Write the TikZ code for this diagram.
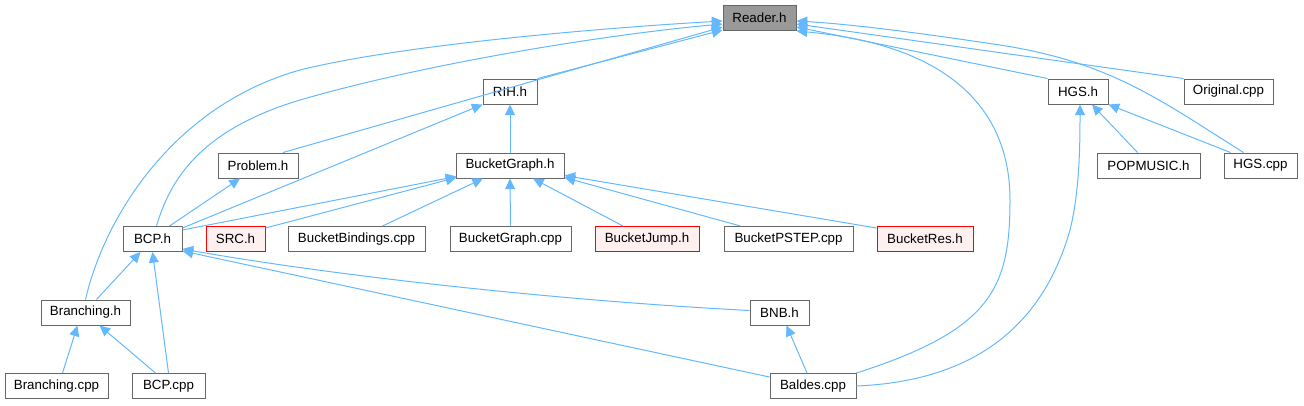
\documentclass[tikz,border=0pt]{standalone}
\usepackage{fontspec}
\setmainfont{Liberation Sans}
\usepackage{tikz}
\usetikzlibrary{arrows.meta,calc,positioning}

\definecolor{edgeblue}{HTML}{63B8FF}
\definecolor{boxgray}{HTML}{666666}
\definecolor{rootgray}{HTML}{999999}
\definecolor{nodocred}{HTML}{FF0000}
\definecolor{nodocfill}{HTML}{FFF0F0}

\begin{document}
\begin{tikzpicture}[
  x=0.75pt,y=-0.75pt,
  >={Triangle[length=8pt,width=7.5pt]},
  file/.style={draw=boxgray,fill=white,line width=0.75pt,inner sep=0pt,
    minimum height=18.75pt,font=\fontsize{10}{12}\selectfont},
  root/.style={file,fill=rootgray},
  nodoc/.style={file,draw=nodocred,fill=nodocfill},
  dep/.style={draw=edgeblue,line width=0.75pt,->}
]
  \useasboundingbox (0,0) rectangle (1304,405);

  % Top row
  \node[root,minimum width=54.75pt] (Reader) at (759.5,18) {Reader.h};

  % Second row
  \node[file,minimum width=40.5pt] (RIH) at (510,91.5) {RIH.h};
  \node[file,minimum width=45pt] (HGS) at (1078,91.5) {HGS.h};
  \node[file,minimum width=66.75pt] (Original) at (1228.5,91.5) {Original.cpp};

  % Third row
  \node[file,minimum width=60pt] (Problem) at (258,165.5) {Problem.h};
  \node[file,minimum width=81pt] (BucketGraph) at (510,165.5) {BucketGraph.h};
  \node[file,minimum width=77.25pt] (POPMUSIC) at (1148.5,165.5) {POPMUSIC.h};
  \node[file,minimum width=54.75pt] (HGSCpp) at (1260.5,165.5) {HGS.cpp};

  % Fourth row
  \node[file,minimum width=44.25pt] (BCPh) at (152.5,239) {BCP.h};
  \node[nodoc,minimum width=44.25pt] (SRC) at (235.5,239) {SRC.h};
  \node[file,minimum width=102.75pt] (Bindings) at (356.5,239) {BucketBindings.cpp};
  \node[file,minimum width=90.75pt] (GraphCpp) at (510.5,239) {BucketGraph.cpp};
  \node[nodoc,minimum width=78pt] (Jump) at (647,239) {BucketJump.h};
  \node[file,minimum width=96.75pt] (PSTEP) at (788.5,239) {BucketPSTEP.cpp};
  \node[nodoc,minimum width=72pt] (Res) at (925,239) {BucketRes.h};

  % Fifth row
  \node[file,minimum width=66.75pt] (Branching) at (85.5,312.5) {Branching.h};
  \node[file,minimum width=44.25pt] (BNB) at (779.5,312.5) {BNB.h};

  % Bottom row
  \node[file,minimum width=77.25pt] (BranchingCpp) at (56.5,386) {Branching.cpp};
  \node[file,minimum width=54.75pt] (BCPCpp) at (168.5,386) {BCP.cpp};
  \node[file,minimum width=64.5pt] (Baldes) at (813,386) {Baldes.cpp};

  % Includes of Reader.h, left side
  \draw[dep] (Branching.north)
    .. controls (105,215) and (175,105) .. (300,70)
    .. controls (400,45) and (600,28) .. ($(Reader.west)+(0,3)$);
  \draw[dep] ($(BCPh.north)+(4,0)$)
    .. controls (170,180) and (200,130) .. (300,100)
    .. controls (420,65) and (600,35) .. ($(Reader.west)+(0,6)$);
  \draw[dep] ($(Problem.north)+(25,0)$) -- ($(Reader.west)+(0,9)$);
  \draw[dep] (RIH.north east) -- ($(Reader.west)+(0,12)$);

  % Includes of Reader.h, right side
  \draw[dep] ($(HGSCpp.north)+(-17,0)$)
    .. controls (1160,100) and (1110,62) .. (1000,45)
    .. controls (920,33) and (850,24) .. ($(Reader.east)+(0,3)$);
  \draw[dep] (Original.north west) -- ($(Reader.east)+(0,6)$);
  \draw[dep] (HGS.north west) -- ($(Reader.east)+(0,9)$);
  \draw[dep] (Baldes.north east)
    .. controls (990,330) and (1010,290) .. (1010,200)
    .. controls (1010,110) and (950,45) .. ($(Reader.east)+(0,13)$);

  % RIH.h and Problem.h
  \draw[dep] (BucketGraph.north) -- (RIH.south);
  \draw[dep] ($(BCPh.north east)+(0,2)$) -- (RIH.south west);
  \draw[dep] ($(BCPh.north)+(17,0)$) -- ($(Problem.south)+(-18,0)$);

  % BucketGraph.h
  \draw[dep] ($(BCPh.north east)+(0,4)$) -- ($(BucketGraph.south west)+(1,-2)$);
  \draw[dep] ($(SRC.north east)+(0,2)$) -- ($(BucketGraph.south west)+(1,-1)$);
  \draw[dep] ($(Bindings.north)+(26,0)$) -- ($(BucketGraph.south)+(-27,0)$);
  \draw[dep] (GraphCpp.north) -- (BucketGraph.south);
  \draw[dep] ($(Jump.north)+(-24,0)$) -- ($(BucketGraph.south)+(23,0)$);
  \draw[dep] ($(PSTEP.north)+(-48,0)$) -- ($(BucketGraph.south east)+(0,-1)$);
  \draw[dep] ($(Res.north west)+(0,2)$) -- ($(BucketGraph.south east)+(0,-3)$);

  % HGS.h
  \draw[dep] ($(POPMUSIC.north)+(-11,0)$) -- ($(HGS.south)+(14,0)$);
  \draw[dep] ($(HGSCpp.north)+(-30,0)$) -- (HGS.south east);
  \draw[dep] (Baldes.east)
    .. controls (1000,380) and (1050,300) .. (1070,230)
    .. controls (1080,190) and (1080,140) .. ($(HGS.south)+(2,0)$);

  % BCP.h
  \draw[dep] ($(Branching.north)+(11,0)$) -- ($(BCPh.south)+(-12,0)$);
  \draw[dep] (BCPCpp.north) -- (BCPh.south);
  \draw[dep] ($(BNB.west)+(0,-2)$)
    .. controls (550,300) and (330,275) .. ($(BCPh.south east)+(0,-3)$);
  \draw[dep] ($(Baldes.north west)+(0,4)$) -- ($(BCPh.south east)+(0,-1)$);

  % Branching.h and BNB.h
  \draw[dep] ($(BranchingCpp.north)+(6,0)$) -- ($(Branching.south)+(-8,0)$);
  \draw[dep] ($(BCPCpp.north)+(-13,0)$) -- ($(Branching.south)+(14,0)$);
  \draw[dep] ($(Baldes.north)+(-6,0)$) -- ($(BNB.south)+(7,0)$);
\end{tikzpicture}
\end{document}
